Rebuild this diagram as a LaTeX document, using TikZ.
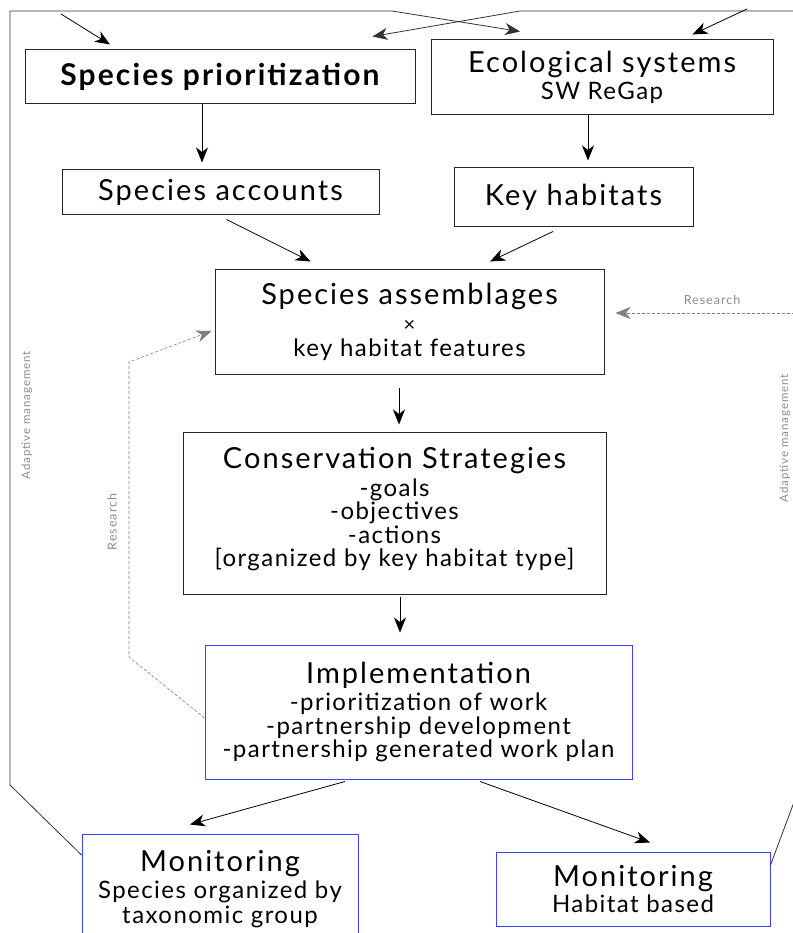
\documentclass[tikz,border=0pt]{standalone}
\usepackage{fontspec}
\setmainfont{Lato}[LetterSpace=6]
\newfontfamily\ttlfont{Lato}[LetterSpace=7]
\newfontfamily\lblfont{Lato}[LetterSpace=8]
\usetikzlibrary{arrows.meta,calc}
\newcommand{\HdF}{\ttlfont\fontsize{29}{30}\selectfont}
\newcommand{\BdF}{\ttlfont\bfseries\fontsize{30}{30}\selectfont}
\newcommand{\SmF}{\fontsize{24}{23.5}\selectfont}
\newcommand{\TnF}{\lblfont\fontsize{12.5}{13}\selectfont}
\begin{document}
\begin{tikzpicture}[x=1pt,y=-1pt,
  box/.style={draw=black!85, line width=1pt, align=center, inner sep=0pt, font=\SmF},
  bbox/.style={draw=blue!75, line width=1pt, align=center, inner sep=0pt, font=\SmF},
  arr/.style={line width=0.8pt, -{Stealth[length=15pt,width=12pt,inset=4.5pt]}},
  frame/.style={line width=0.7pt, draw=black!80},
  garr/.style={line width=0.6pt, draw=gray, dash pattern=on 3pt off 2pt, -{Stealth[length=15pt,width=12pt,inset=4.5pt,fill=gray]}},
  glbl/.style={text=gray!90, font=\TnF, inner sep=0pt}]
\useasboundingbox (0,0) rectangle (792,933);
% boxes
\node[box, minimum width=390pt, minimum height=54pt] (sp) at (220,77) {{\BdF Species prioritization}};
\node[box, minimum width=342pt, minimum height=75pt] (eco) at (602,77.5) {{\HdF Ecological systems}\\[3pt]SW ReGap};
\node[box, minimum width=317pt, minimum height=45pt] (acc) at (220.5,192.5) {{\HdF Species accounts}};
\node[box, minimum width=239pt, minimum height=59pt] (kh) at (573.5,197.5) {{\HdF Key habitats}};
\node[box, minimum width=389pt, minimum height=105pt] (asm) at (409.5,321.5) {{\HdF Species assemblages}\\[4pt]{\fontsize{20}{20}\selectfont ×}\\[1pt]key habitat features};
\node[box, minimum width=423pt, minimum height=162pt] (cs) at (394.5,513) {{\HdF Conservation Strategies}\\[4pt]-goals\\-objectives\\-actions\\{[}organized by key habitat type{]}\\[-11.5pt]};
\node[bbox, minimum width=427pt, minimum height=134pt] (imp) at (418.5,712) {{\HdF Implementation}\\[4pt]-prioritization of work\\-partnership development\\-partnership generated work plan};
\node[bbox, minimum width=276pt, minimum height=110pt] (mon1) at (220,889) {{\HdF Monitoring}\\[4pt]Species organized by\\[1pt]taxonomic group};
\node[bbox, minimum width=274pt, minimum height=74pt] (mon2) at (633,889) {{\HdF Monitoring}\\[3pt]Habitat based};
% main arrows
\draw[arr] ([xshift=-18pt]sp.south) -- ([xshift=-18.5pt,yshift=7pt]acc.north);
\draw[arr] ([xshift=-14pt]eco.south) -- ([xshift=14.5pt,yshift=7pt]kh.north);
\draw[arr] ([xshift=6pt,yshift=-4pt]acc.south) -- ([xshift=-99pt,yshift=7pt]asm.north);
\draw[arr] ([xshift=-20.5pt,yshift=-4pt]kh.south) -- ([xshift=80.5pt,yshift=7pt]asm.north);
\draw[arr] ([xshift=-10.5pt,yshift=-13pt]asm.south) -- ([xshift=4.5pt,yshift=7pt]cs.north);
\draw[arr] ([xshift=5.5pt,yshift=-2pt]cs.south) -- ([xshift=-18.5pt,yshift=12pt]imp.north);
\draw[arr] ([xshift=-73.5pt,yshift=-2pt]imp.south) -- ([xshift=-30pt,yshift=9pt]mon1.north);
\draw[arr] ([xshift=61.5pt,yshift=-2pt]imp.south) -- ([xshift=17pt,yshift=9pt]mon2.north);
% adaptive management loops
\coordinate (lb) at (10,785);
\coordinate (lt) at (10,11);
\coordinate (lc) at (392,11);
\draw[frame, arr] ([yshift=34pt]mon1.west) -- (lb) -- (lt) -- (lc) -- ([xshift=-82pt,yshift=8pt]eco.north);
\coordinate (tl) at (61,14);
\draw[arr] (tl) -- ([xshift=-110pt,yshift=5pt]sp.north);
\coordinate (rb) at (800,786);
\coordinate (rt) at (800,11);
\coordinate (rc) at (520,11);
\draw[frame, arr] ([yshift=24pt]mon2.east) -- (rb) -- (rt) -- (rc) -- ([xshift=-43pt,yshift=13pt]sp.north east);
\coordinate (tr) at (747,9);
\draw[arr] (tr) -- ([xshift=-81pt,yshift=5pt]eco.north east);
% research
\coordinate (rr) at (800,313);
\draw[garr] (rr) -- ([xshift=11pt,yshift=8.5pt]asm.east);
\node[glbl] (rlab) at (712,300) {Research};
\coordinate (r1) at (129,657);
\coordinate (r2) at (129,362);
\draw[garr] ([yshift=-6pt]imp.west) -- (r1) -- (r2) -- ([xshift=-3pt,yshift=-9.5pt]asm.west);
\node[glbl, rotate=90] (llab) at (112,522) {Research};
\node[glbl, rotate=90, font=\lblfont\fontsize{11.5}{12}\selectfont] (am1) at (27,415) {Adaptive management};
\node[glbl, rotate=90, font=\lblfont\fontsize{11.5}{12}\selectfont] (am2) at (785,438) {Adaptive management};
\end{tikzpicture}
\end{document}
